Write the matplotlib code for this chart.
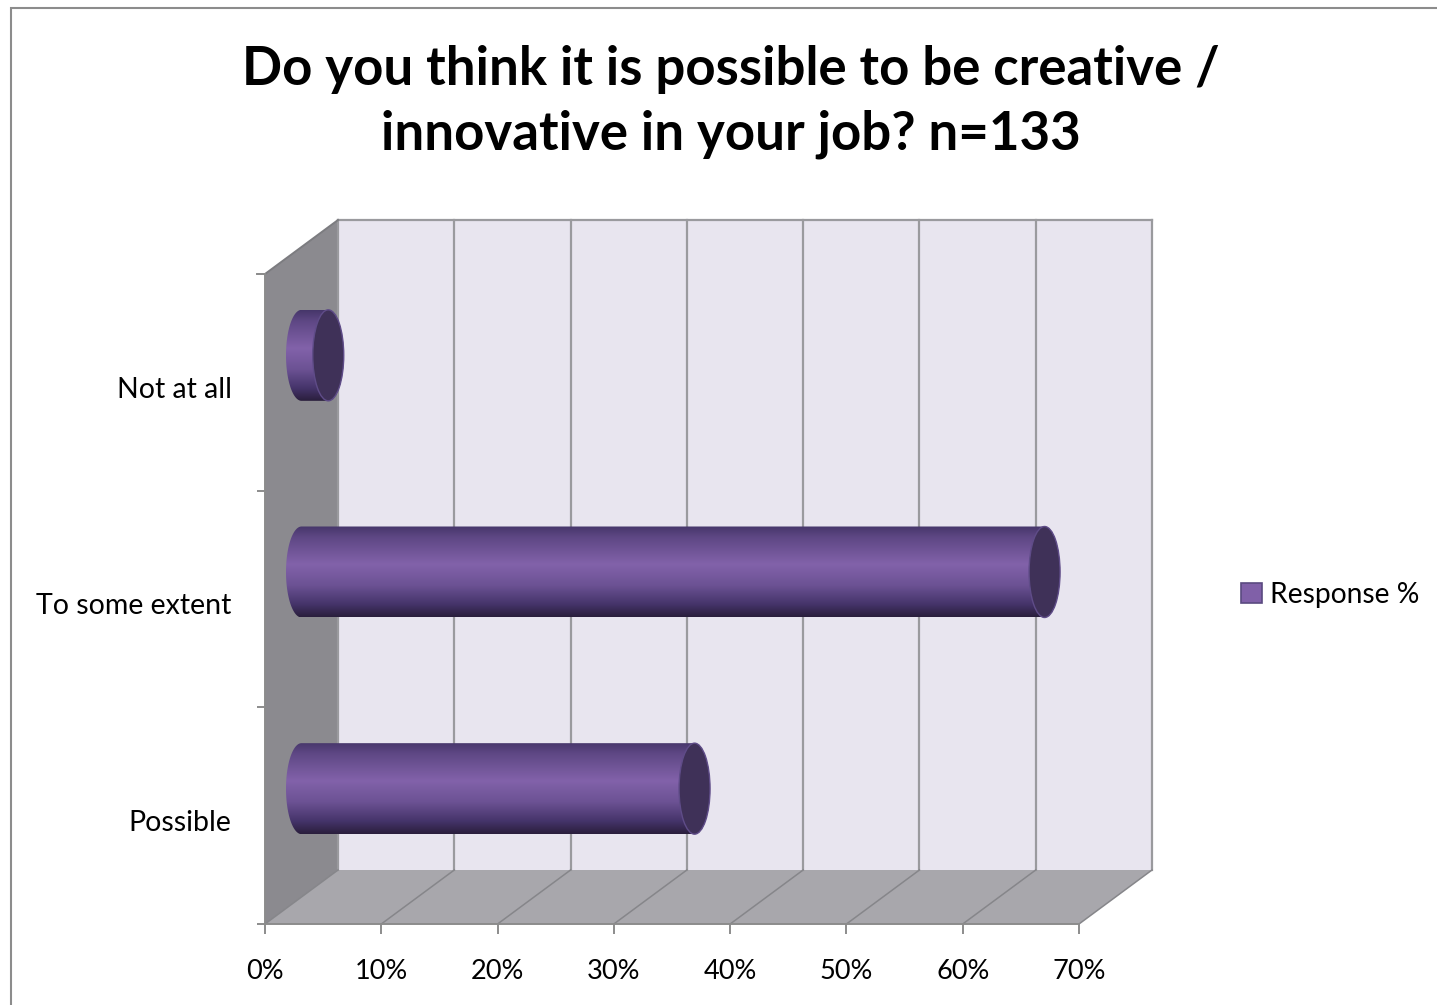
import numpy as np
import matplotlib
matplotlib.use("Agg")
import matplotlib.pyplot as plt
from matplotlib.patches import Polygon, Rectangle, Ellipse, Patch
from matplotlib.colors import LinearSegmentedColormap

# ---- data ----
categories = ["Possible", "To some extent", "Not at all"]
response_pct = [33.8, 63.9, 2.3]
x_ticks = [0, 10, 20, 30, 40, 50, 60, 70]
x_tick_labels = ["0%", "10%", "20%", "30%", "40%", "50%", "60%", "70%"]
title_text = "Do you think it is possible to be creative /\ninnovative in your job? n=133"
legend_label = "Response %"

plt.rcParams["font.family"] = ["Lato", "DejaVu Sans"]

W, H, DPI = 1437, 1005, 100
fig = plt.figure(figsize=(W / DPI, H / DPI), dpi=DPI)
fig.patch.set_facecolor("white")

# front plane of the 3-D plot box
ax = fig.add_axes([265 / W, 1 - 924 / H, (1079 - 265) / W, (924 - 274) / H])
ax.patch.set_visible(False)
XMAX, NROWS = 70, len(categories)

# oblique projection: depth shifts things right and up (in data units)
px_x = (1079 - 265) / XMAX
px_y = (924 - 274) / NROWS
DX = 73 / px_x
DY = 54 / px_y


def proj(x, y, d):
    return (x + d * DX, y + d * DY)


wall_kw = dict(clip_on=False, linewidth=0, zorder=0)
# left side wall
ax.add_patch(Polygon([proj(0, 0, 0), proj(0, NROWS, 0), proj(0, NROWS, 1), proj(0, 0, 1)],
                     facecolor="#8b8a8f", **wall_kw))
# floor
ax.add_patch(Polygon([proj(0, 0, 0), proj(XMAX, 0, 0), proj(XMAX, 0, 1), proj(0, 0, 1)],
                     facecolor="#a8a7ac", **wall_kw))
# back wall
ax.add_patch(Polygon([proj(0, 0, 1), proj(XMAX, 0, 1), proj(XMAX, NROWS, 1), proj(0, NROWS, 1)],
                     facecolor="#e8e5ef", **wall_kw))

grid_c = "#9a9a9e"
for xt in x_ticks:
    # vertical gridline on the back wall
    p0, p1 = proj(xt, 0, 1), proj(xt, NROWS, 1)
    ax.plot([p0[0], p1[0]], [p0[1], p1[1]], color=grid_c, lw=1.6, clip_on=False, zorder=1)
    # depth line across the floor
    f0, f1 = proj(xt, 0, 0), proj(xt, 0, 1)
    ax.plot([f0[0], f1[0]], [f0[1], f1[1]], color="#86868a", lw=1.1, clip_on=False, zorder=1)

# top edges of the back wall and the side wall
t0, t1 = proj(0, NROWS, 1), proj(XMAX, NROWS, 1)
ax.plot([t0[0], t1[0]], [t0[1], t1[1]], color=grid_c, lw=1.6, clip_on=False, zorder=1)
s0 = proj(0, NROWS, 0)
ax.plot([s0[0], t0[0]], [s0[1], t0[1]], color="#7c7c80", lw=1.4, clip_on=False, zorder=1)
ax.plot([s0[0] - 8 / px_x, s0[0]], [s0[1], s0[1]], color="#8c8c8c", lw=1.4, clip_on=False, zorder=1)

# ---- cylinders ----
cyl_cmap = LinearSegmentedColormap.from_list(
    "cyl",
    [(0.0, "#46366a"), (0.12, "#5e4784"), (0.42, "#8262aa"),
     (0.65, "#6c5294"), (0.86, "#45346a"), (1.0, "#2a1e3c")])
grad = np.linspace(0, 1, 256).reshape(-1, 1)

a = 15.5 / px_x   # horizontal semi-axis of the end caps
b = 45.5 / px_y   # cylinder radius

for row, val in enumerate(response_pct):
    xc0, yc = proj(0, row + 0.5, 0.5)
    xc1 = xc0 + val
    tr = np.linspace(np.pi / 2, -np.pi / 2, 60)
    right = np.column_stack([xc1 + a * np.cos(tr), yc + b * np.sin(tr)])
    tl = np.linspace(-np.pi / 2, -3 * np.pi / 2, 60)
    left = np.column_stack([xc0 + a * np.cos(tl), yc + b * np.sin(tl)])
    outline = Polygon(np.vstack([right, left]), closed=True, transform=ax.transData)
    im = ax.imshow(grad, cmap=cyl_cmap, aspect="auto", origin="upper",
                   extent=(xc0 - a, xc1 + a, yc - b, yc + b), zorder=3,
                   interpolation="bilinear")
    im.set_clip_path(outline)
    ax.add_patch(Ellipse((xc1, yc), 2 * a, 2 * b, facecolor="#3f3158",
                         edgecolor="#5f4c88", lw=1.0, zorder=4))

ax.set_xlim(0, XMAX)
ax.set_ylim(0, NROWS)

# ---- axes, ticks and labels ----
axis_c = "#8c8c8c"
for side in ("top", "right"):
    ax.spines[side].set_visible(False)
for side in ("left", "bottom"):
    ax.spines[side].set_color(axis_c)
    ax.spines[side].set_linewidth(1.4)
    ax.spines[side].set_zorder(2)

ax.set_xticks(x_ticks, x_tick_labels)
ax.tick_params(axis="x", length=7, width=1.4, color=axis_c, pad=18.5,
               labelsize=19.5, labelcolor="black")
ax.set_yticks(range(NROWS + 1), [""] * (NROWS + 1))
ax.tick_params(axis="y", which="major", length=5.5, width=1.4, color=axis_c)
ax.set_yticks([r + 0.477 for r in range(NROWS)], categories, minor=True)
ax.tick_params(axis="y", which="minor", length=0, pad=24, labelsize=20.5,
               labelcolor="black")

# title
fig.text(731 / W, 1 - 102 / H, title_text, ha="center", va="center",
         fontsize=38, fontweight="bold", linespacing=1.40)

# legend
fig.legend(handles=[Patch(facecolor="#8060a8", edgecolor="#5a4a80", lw=1.2)],
           labels=[legend_label], loc="center left",
           bbox_to_anchor=(1216 / W, 1 - 595 / H), frameon=False,
           fontsize=20.3, handlelength=0.72, handleheight=0.72, handletextpad=0.28)

# chart area border
fig.add_artist(Rectangle((10.5 / W, -0.1), 2, 1 - 7.5 / H + 0.1, transform=fig.transFigure,
                         fill=False, edgecolor="#8c8c8c", lw=1.5))

fig.savefig("out.png", dpi=DPI)
